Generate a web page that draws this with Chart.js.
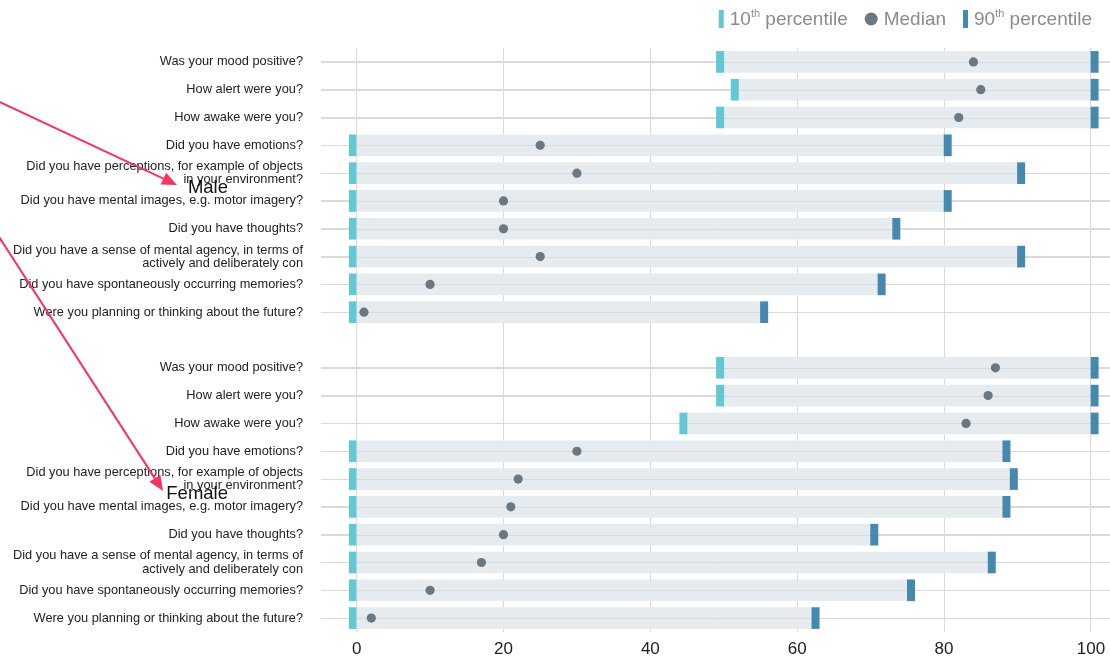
<!DOCTYPE html>
<html>
<head>
<meta charset="utf-8">
<script src="https://cdn.jsdelivr.net/npm/chart.js@4.4.1/dist/chart.umd.min.js"></script>
<style>
  html, body { margin: 0; padding: 0; background: #fff; }
  #wrap { width: 1110px; height: 657px; }
</style>
</head>
<body>
<div id="wrap"><canvas id="chart"></canvas></div>
<script>
// questions asked in both groups
const questions = [
  "Was your mood positive?",
  "How alert were you?",
  "How awake were you?",
  "Did you have emotions?",
  ["Did you have perceptions, for example of objects", "in your environment?"],
  "Did you have mental images, e.g. motor imagery?",
  "Did you have thoughts?",
  ["Did you have a sense of mental agency, in terms of", "actively and deliberately con"],
  "Did you have spontaneously occurring memories?",
  "Were you planning or thinking about the future?"
];
const groups = ["Male", "Female"];

const male10 = [50, 52, 50, 0, 0, 0, 0, 0, 0, 0];
const maleMedian = [84, 85, 82, 25, 30, 20, 20, 25, 10, 1];
const male90 = [100, 100, 100, 80, 90, 80, 73, 90, 71, 55];

const female10 = [50, 50, 45, 0, 0, 0, 0, 0, 0, 0];
const femaleMedian = [87, 86, 83, 30, 22, 21, 20, 17, 10, 2];
const female90 = [100, 100, 100, 88, 89, 88, 70, 86, 75, 62];

const xTicks = [0, 20, 40, 60, 80, 100];

// colours
const C10 = '#63c8d4';
const C90 = '#4689ae';
const CMED = '#6a7883';
const CBAR = '#e5ebef';
const CGRID = '#dadada';
const CARROW = '#f4355f';
const FONT = "'Liberation Sans', Arial, Helvetica, sans-serif";

const MARK = 1; // width of the percentile ticks, in axis units
const GAP = questions.length; // empty row between the two groups

// one row per question, an empty row between male and female
const labels = [...questions, '', ...questions];
const join = (a, b) => [...a, null, ...b];

const p10 = join(male10, female10);
const med = join(maleMedian, femaleMedian);
const p90 = join(male90, female90);

const rangeData = p10.map((v, i) => v === null ? null : [v, p90[i]]);
const low = p10.map(v => v === null ? null : [v - MARK, v]);
const high = p90.map(v => v === null ? null : [v, v + MARK]);

// horizontal row lines over the grey bars
const rowLines = {
  id: 'rowLines',
  afterDatasetDraw(chart, args) {
    if (args.meta.label !== 'range') return;
    const {ctx, chartArea} = chart;
    const y = chart.scales.y;
    ctx.save();
    ctx.strokeStyle = CGRID;
    ctx.lineWidth = 1;
    labels.forEach((l, i) => {
      if (i === GAP) return;
      const py = Math.round(y.getPixelForValue(i)) + 0.5;
      ctx.beginPath();
      ctx.moveTo(chartArea.left, py);
      ctx.lineTo(chartArea.right, py);
      ctx.stroke();
    });
    ctx.restore();
  }
};

// legend with superscripts, top right
const topLegend = {
  id: 'topLegend',
  afterDraw(chart) {
    const ctx = chart.ctx;
    const big = '19px ' + FONT;
    const small = '11px ' + FONT;
    const items = [
      {mark: 'bar', color: C10, parts: [['10', big], ['th', small], [' percentile', big]]},
      {mark: 'dot', color: CMED, parts: [['Median', big]]},
      {mark: 'bar', color: C90, parts: [['90', big], ['th', small], [' percentile', big]]}
    ];
    const cy = 19;
    ctx.save();
    let total = 0;
    items.forEach(it => {
      it.w = 0;
      it.parts.forEach(p => { ctx.font = p[1]; it.w += ctx.measureText(p[0]).width; });
      it.mw = it.mark === 'bar' ? 5 : 13;
      total += it.mw + 6 + it.w;
    });
    total += 17 * (items.length - 1);
    let x = chart.width - 18 - total;
    items.forEach(it => {
      ctx.fillStyle = it.color;
      if (it.mark === 'bar') {
        ctx.fillRect(x, cy - 9, it.mw, 18);
      } else {
        ctx.beginPath();
        ctx.arc(x + 6.5, cy, 6.5, 0, Math.PI * 2);
        ctx.fill();
      }
      x += it.mw + 6;
      ctx.fillStyle = '#8b8b8b';
      ctx.textBaseline = 'middle';
      it.parts.forEach(p => {
        ctx.font = p[1];
        const dy = p[1] === small ? -5 : 1;
        ctx.fillText(p[0], x, cy + dy);
        x += ctx.measureText(p[0]).width;
      });
      x += 17;
    });
    ctx.restore();
  }
};

// group names with arrows
const groupNotes = {
  id: 'groupNotes',
  afterDraw(chart) {
    const ctx = chart.ctx;
    const y = chart.scales.y;
    const n = questions.length;
    const notes = [
      {text: groups[0], cy: (y.getPixelForValue(4) + y.getPixelForValue(5)) / 2, tipX: 177},
      {text: groups[1], cy: (y.getPixelForValue(n + 5) + y.getPixelForValue(n + 6)) / 2, tipX: 163}
    ];
    const tail = {x: -126, y: 43};
    ctx.save();
    notes.forEach(nt => {
      const tx = nt.tipX, ty = nt.cy - 2;
      const ang = Math.atan2(ty - tail.y, tx - tail.x);
      const hl = 15, hw = 6.5;
      const bx = tx - hl * Math.cos(ang), by = ty - hl * Math.sin(ang);
      ctx.strokeStyle = CARROW;
      ctx.lineWidth = 2;
      ctx.beginPath();
      ctx.moveTo(tail.x, tail.y);
      ctx.lineTo(bx, by);
      ctx.stroke();
      ctx.fillStyle = CARROW;
      ctx.beginPath();
      ctx.moveTo(tx, ty);
      ctx.lineTo(bx + hw * Math.sin(ang), by - hw * Math.cos(ang));
      ctx.lineTo(bx - hw * Math.sin(ang), by + hw * Math.cos(ang));
      ctx.closePath();
      ctx.fill();
      ctx.fillStyle = '#111';
      ctx.font = '18.5px ' + FONT;
      ctx.textAlign = 'right';
      ctx.textBaseline = 'middle';
      ctx.fillText(nt.text, 228, nt.cy + 1);
    });
    ctx.restore();
  }
};

const barCommon = {
  grouped: false,
  barThickness: 21,
  borderWidth: 0,
  borderSkipped: false,
  xAxisID: 'x',
  yAxisID: 'y'
};

new Chart(document.getElementById('chart'), {
  type: 'bar',
  data: {
    labels: labels,
    datasets: [
      {
        label: 'Median',
        type: 'line',
        data: med,
        showLine: false,
        pointRadius: 4.6,
        pointHoverRadius: 4.6,
        pointBackgroundColor: CMED,
        pointBorderWidth: 0,
        xAxisID: 'x',
        yAxisID: 'y',
        order: 0
      },
      Object.assign({label: '10th percentile', data: low, backgroundColor: C10, order: 1}, barCommon),
      Object.assign({label: '90th percentile', data: high, backgroundColor: C90, order: 1}, barCommon),
      Object.assign({label: 'range', data: rangeData, backgroundColor: CBAR, order: 3}, barCommon)
    ]
  },
  options: {
    indexAxis: 'y',
    responsive: true,
    maintainAspectRatio: false,
    animation: false,
    layout: { autoPadding: false, padding: { top: 48, right: 0, left: 0, bottom: 0 } },
    plugins: {
      legend: { display: false },
      tooltip: { enabled: true }
    },
    scales: {
      x: {
        type: 'linear',
        position: 'bottom',
        min: -4.85,
        max: 102.6,
        afterBuildTicks: s => { s.ticks = xTicks.map(v => ({value: v})); },
        afterFit: s => { s.height = 25; s.paddingLeft = 0; s.paddingRight = 0; },
        grid: { color: CGRID, lineWidth: 1, drawTicks: false },
        border: { display: false },
        ticks: { padding: 7, color: '#222', font: { family: FONT, size: 17 } }
      },
      y: {
        type: 'category',
        position: 'left',
        afterFit: s => { s.width = 321; s.paddingTop = 0; s.paddingBottom = 0; },
        grid: {
          offset: false,
          drawTicks: false,
          color: c => c.index === GAP ? 'rgba(0,0,0,0)' : CGRID,
          lineWidth: 1
        },
        border: { display: false },
        ticks: {
          padding: 18,
          autoSkip: false,
          color: '#222',
          font: { family: FONT, size: 12.8, lineHeight: 1.02 }
        }
      }
    }
  },
  plugins: [rowLines, topLegend, groupNotes]
});
</script>
</body>
</html>
